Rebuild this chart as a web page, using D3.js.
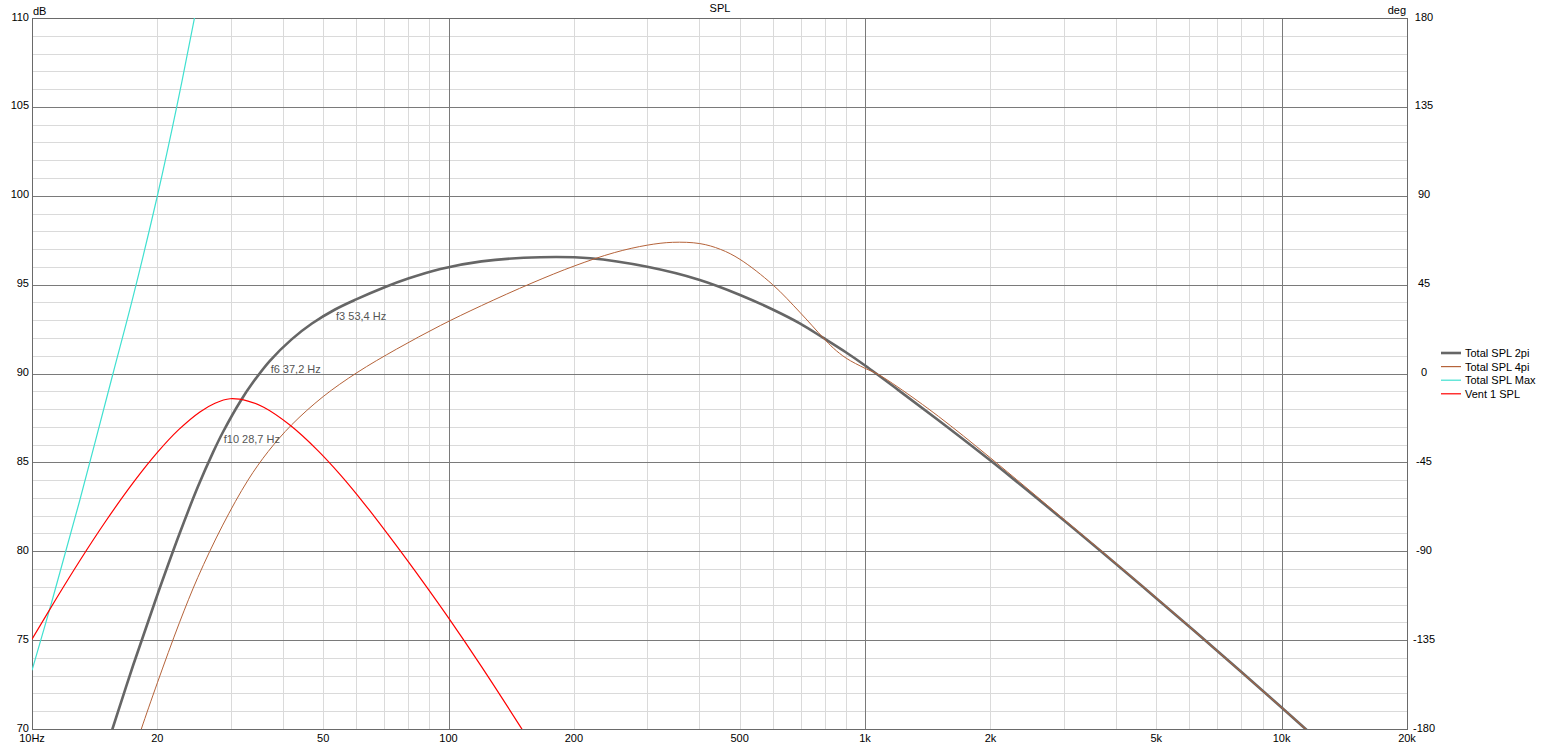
<!DOCTYPE html>
<html><head><meta charset="utf-8">
<script src="https://cdn.jsdelivr.net/npm/d3@7"></script>
<style>
html,body{margin:0;padding:0;background:#fff;}
svg{display:block;}
text{font-family:"Liberation Sans",Arial,sans-serif;font-size:11px;}
</style></head>
<body><svg id="chart" width="1545" height="747"></svg>
<script>
// ---- data ----
const xTickValues = [10,20,50,100,200,500,1000,2000,5000,10000,20000];
const xTickLabels = ["10Hz","20","50","100","200","500","1k","2k","5k","10k","20k"];
const yTickValues = [70,75,80,85,90,95,100,105,110];
const y2TickValues = [-180,-135,-90,-45,0,45,90,135,180];

const spl2piFreq = [15,15.6,17.5,19.8,22.6,25,27.2,28.7,31.7,34,37.2,42,47,53.4,60,70,80,95.6,120,166,219,300,401,501,600,697,794,901,1000,1200,1500,2000,3000,5000,7000,10000,11600,13000];
const spl2piDb   = [68.75,70,73.6,77.26,80.98,83.61,85.56,86.68,88.47,89.53,90.7,91.92,92.81,93.6,94.17,94.84,95.34,95.88,96.31,96.54,96.48,96.0,95.26,94.42,93.6,92.82,92.0,91.18,90.45,89.08,87.37,85.1,81.74,77.36,74.4,71.21,69.86,68.83];

const spl4piFreq = [17.5,18.3,20,22.6,25,28.7,33,36.9,42,50,60.3,75,95.6,120,158.6,201,250,300,345,401,450,501,600,697,794,840,901,1000,1070,1200,1500,2000,3000,5000,7000,10000,11600,13000];
const spl4piDb   = [68.6,70,72.6,75.99,78.52,81.47,84.0,85.61,87.11,88.7,90.05,91.37,92.7,93.82,95.09,96.06,96.8,97.22,97.38,97.31,96.98,96.42,95.0,93.45,92.0,91.42,90.86,90.29,89.98,89.23,87.59,85.25,81.8,77.38,74.4,71.21,69.86,68.83];

const splMaxFreq = [10,11.2,13,15.65,17.5,20,22.3,24.5,26];
const splMaxDb   = [73.3,77.3,82.8,90,94.35,100,105.1,109.9,113.2];

const vent1Freq = [10,11.46,13,15,17.5,20,22.5,25.3,27.5,29.9,33,36,41.6,48.3,55,63,74.5,87,100,120,148.6,165];
const vent1Db   = [75.05,77.37,79.44,81.66,83.86,85.56,86.84,87.84,88.33,88.58,88.45,88.1,87.1,85.72,84.3,82.63,80.4,78.25,76.25,73.51,70.15,68.46];

const seriesNames  = ["Total SPL 2pi","Total SPL 4pi","Total SPL Max","Vent 1 SPL"];
const seriesColors = ["#666666","#b5633a","#40e0d0","#ff0000"];

const annoFreq  = [53.4,37.2,28.7];
const annoText  = ["f3 53,4 Hz","f6 37,2 Hz","f10 28,7 Hz"];
const annoDb    = [93.0,90.05,86.1];

// ---- layout ----
const L=32, R=1407, T=18, B=729;
const svg = d3.select("#chart");
svg.append("rect").attr("width",1545).attr("height",747).attr("fill","#fff");

const x = d3.scaleLog().domain([10,20000]).range([L,R]);
const y = d3.scaleLinear().domain([70,110]).range([B,T]);
const y2 = d3.scaleLinear().domain([-180,180]).range([B,T]);

// grid
const minorX=[], majorX=[];
[10,100,1000,10000].forEach(d=>{
  for(let k=1;k<10;k++){ const f=d*k; if(f>20000) break; (k===1?majorX:minorX).push(f); }
});
const minorY=d3.range(70,111,1).filter(v=>v%5!==0);
const g = svg.append("g");
g.selectAll(".mx").data(minorX).join("line")
  .attr("x1",d=>Math.round(x(d))+0.5).attr("x2",d=>Math.round(x(d))+0.5).attr("y1",T).attr("y2",B)
  .attr("stroke","#dadada").attr("stroke-width",1);
g.selectAll(".my").data(minorY).join("line")
  .attr("x1",L).attr("x2",R).attr("y1",d=>Math.round(y(d))+0.5).attr("y2",d=>Math.round(y(d))+0.5)
  .attr("stroke","#dadada").attr("stroke-width",1);
g.selectAll(".Mx").data(majorX).join("line")
  .attr("x1",d=>Math.round(x(d))+0.5).attr("x2",d=>Math.round(x(d))+0.5).attr("y1",T).attr("y2",B)
  .attr("stroke","#7a7a7a").attr("stroke-width",1);
g.selectAll(".My").data(yTickValues).join("line")
  .attr("x1",L).attr("x2",R).attr("y1",d=>Math.round(y(d))+0.5).attr("y2",d=>Math.round(y(d))+0.5)
  .attr("stroke","#7a7a7a").attr("stroke-width",1);
svg.append("rect").attr("x",L+0.5).attr("y",T+0.5).attr("width",R-L).attr("height",B-T)
  .attr("fill","none").attr("stroke","#6a6a6a").attr("stroke-width",1);

// clip
svg.append("clipPath").attr("id","clip").append("rect").attr("x",L).attr("y",T).attr("width",R-L).attr("height",B-T);

const line = d3.line().x(d=>x(d[0])).y(d=>y(d[1])).curve(d3.curveCatmullRom.alpha(0.5));
const zip=(a,b)=>a.map((v,i)=>[v,b[i]]);
const series=[
  {f:spl2piFreq,v:spl2piDb,w:2.6},
  {f:spl4piFreq,v:spl4piDb,w:1},
  {f:splMaxFreq,v:splMaxDb,w:1.2},
  {f:vent1Freq,v:vent1Db,w:1.2}
];
const cg = svg.append("g").attr("clip-path","url(#clip)");
series.forEach((s,i)=>{
  cg.append("path").attr("d",line(zip(s.f,s.v))).attr("fill","none")
    .attr("stroke",seriesColors[i]).attr("stroke-width",s.w).attr("stroke-linejoin","round");
});

// annotations
svg.selectAll(".anno").data(annoFreq).join("text")
  .attr("x",d=>x(d)+1).attr("y",(d,i)=>y(annoDb[i]))
  .attr("fill","#555").text((d,i)=>annoText[i]);

// axes labels
svg.selectAll(".xl").data(xTickValues).join("text")
  .attr("x",d=>x(d)).attr("y",742).attr("text-anchor","middle").attr("fill","#000")
  .text((d,i)=>xTickLabels[i]);
svg.selectAll(".yl").data(yTickValues).join("text")
  .attr("x",29).attr("y",d=>y(d)+2.5).attr("text-anchor","end").attr("fill","#000")
  .text(d=>d);
svg.selectAll(".y2l").data(y2TickValues).join("text")
  .attr("x",1424).attr("y",d=>y2(d)+2.5).attr("text-anchor","middle").attr("fill","#000")
  .text(d=>d);
svg.append("text").attr("x",33).attr("y",15).text("dB");
svg.append("text").attr("x",1406).attr("y",14).attr("text-anchor","end").text("deg");
svg.append("text").attr("x",720).attr("y",12).attr("text-anchor","middle").text("SPL");

// legend
const lg = svg.append("g");
seriesNames.forEach((n,i)=>{
  const yy=353+i*13.6;
  lg.append("line").attr("x1",1441).attr("x2",1461).attr("y1",yy).attr("y2",yy)
    .attr("stroke",seriesColors[i]).attr("stroke-width",i===0?2.6:1.2);
  lg.append("text").attr("x",1465).attr("y",yy+4).text(n);
});
</script></body></html>
